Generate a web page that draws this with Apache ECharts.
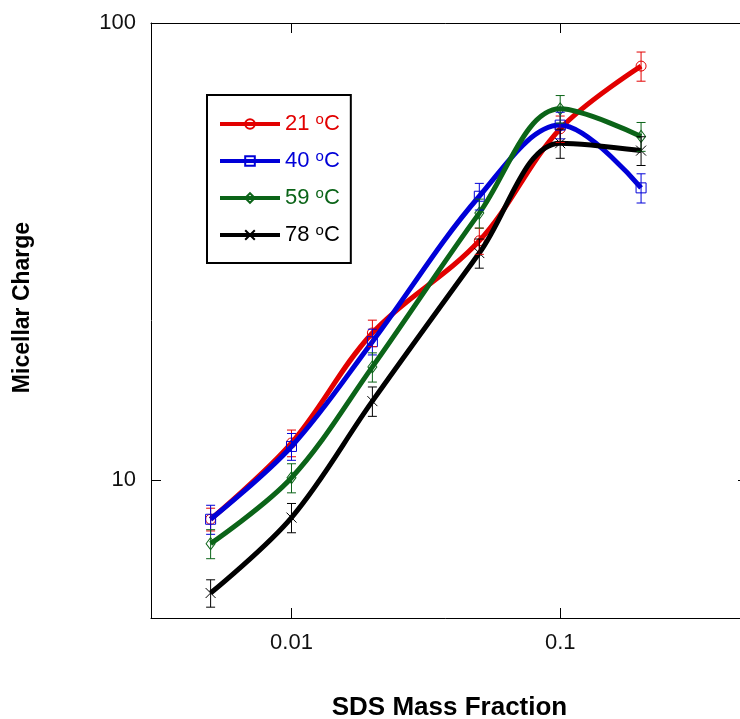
<!DOCTYPE html>
<html>
<head>
<meta charset="utf-8">
<script src="https://cdn.jsdelivr.net/npm/echarts@6/dist/echarts.min.js"></script>
<style>
html, body { margin: 0; padding: 0; background: #fff; }
#chart { width: 740px; height: 719px; }
</style>
</head>
<body>
<div id="chart"></div>
<script>
// ---- data ----
const massFraction = [0.005, 0.01, 0.02, 0.05, 0.1, 0.2];
const seriesNames = ['21 °C', '40 °C', '59 °C', '78 °C'];
const charge21 = [8.22, 12.07, 21.0, 33.4, 58.7, 80.5];
const charge40 = [8.22, 11.86, 20.1, 41.8, 59.8, 43.6];
const charge59 = [7.27, 10.13, 17.7, 38.4, 64.9, 56.5];
const charge78 = [5.67, 8.29, 14.9, 31.4, 54.6, 52.6];
const err21 = [0.47, 0.81, 1.4, 2.2, 3.9, 5.9];
const err40 = [0.6, 0.8, 1.3, 2.8, 4.0, 3.2];
const err59 = [0.53, 0.74, 1.3, 2.8, 4.5, 4.1];
const err78 = [0.39, 0.61, 1.1, 2.3, 4.0, 3.8];
const xTickValues = [0.01, 0.1];
const yTickValues = [10, 100];

// ---- styling ----
const colors = ['#e20000', '#0000d8', '#0b6418', '#000000'];
const symbols = ['circle', 'rect', 'diamond', 'path://M0,0L10,10M10,0L0,10'];
const symbolSizes = [10, 10, [9, 12], 10];
const FONT = 'Liberation Sans, Arial, Helvetica, sans-serif';

const values = [charge21, charge40, charge59, charge78];
const errors = [err21, err40, err59, err78];

const chart = echarts.init(document.getElementById('chart'), null, { renderer: 'canvas' });

const lineSeries = values.map((vals, i) => ({
  name: seriesNames[i],
  type: 'line',
  xAxisIndex: 0,
  yAxisIndex: 0,
  data: massFraction.map((x, j) => [x, vals[j]]),
  smooth: 0.35,
  symbol: symbols[i],
  symbolSize: symbolSizes[i],
  showSymbol: true,
  lineStyle: { color: colors[i], width: 5 },
  itemStyle: { color: 'rgba(255,255,255,0)', borderColor: colors[i], borderWidth: 1 },
  emphasis: { disabled: true },
  z: 2 + i,
  animation: false
}));

const errSeries = values.map((vals, i) => ({
  name: seriesNames[i],
  type: 'custom',
  xAxisIndex: 0,
  yAxisIndex: 0,
  data: massFraction.map((x, j) => [x, vals[j] - errors[i][j], vals[j] + errors[i][j]]),
  renderItem: function (params, api) {
    const x = api.value(0);
    const lo = api.coord([x, api.value(1)]);
    const hi = api.coord([x, api.value(2)]);
    const cap = 4.5;
    const st = { stroke: colors[i], lineWidth: 1 };
    return {
      type: 'group',
      children: [
        { type: 'line', shape: { x1: lo[0], y1: lo[1], x2: hi[0], y2: hi[1] }, style: st },
        { type: 'line', shape: { x1: lo[0] - cap, y1: lo[1], x2: lo[0] + cap, y2: lo[1] }, style: st },
        { type: 'line', shape: { x1: hi[0] - cap, y1: hi[1], x2: hi[0] + cap, y2: hi[1] }, style: st }
      ]
    };
  },
  clip: false,
  z: 10,
  silent: true,
  animation: false
}));

const rich = {};
colors.forEach((c, i) => {
  rich['a' + i] = { color: c, fontSize: 22, fontFamily: FONT, lineHeight: 24 };
  rich['s' + i] = { color: c, fontSize: 15, fontFamily: FONT, lineHeight: 15, verticalAlign: 'top' };
});

const axisCommon = {
  type: 'log',
  logBase: 10,
  axisLine: { show: true, lineStyle: { color: '#000', width: 1 } },
  axisTick: { show: true, inside: true, length: 10, lineStyle: { color: '#000', width: 1 } },
  minorTick: { show: false },
  splitLine: { show: false },
  minorSplitLine: { show: false }
};

const option = {
  backgroundColor: '#ffffff',
  animation: false,
  grid: { left: 151, width: 597, top: 23, height: 595, containLabel: false, outerBoundsMode: 'none' },
  legend: {
    orient: 'vertical',
    left: 207,
    top: 95,
    padding: [17, 11, 17, 11],
    borderColor: '#000',
    borderWidth: 2,
    itemWidth: 60,
    itemHeight: 12,
    itemGap: 14,
    data: seriesNames,
    lineStyle: { width: 4 },
    formatter: function (name) {
      const i = seriesNames.indexOf(name);
      return '{a' + i + '|' + name.split(' ')[0] + ' }{s' + i + '|o}{a' + i + '|C}';
    },
    textStyle: { fontFamily: FONT, fontSize: 22, rich: rich },
    selectedMode: false
  },
  xAxis: [
    Object.assign({}, axisCommon, {
      position: 'bottom',
      min: 0.003,
      max: 0.5,
      name: 'SDS Mass Fraction',
      nameLocation: 'middle',
      nameGap: 77,
      nameTextStyle: { fontFamily: FONT, fontSize: 26, fontWeight: 'bold', color: '#000' },
      axisLabel: {
        show: true,
        margin: 14,
        fontFamily: FONT,
        fontSize: 22,
        color: '#111',
        formatter: function (v) { return xTickValues.some(t => Math.abs(t - v) / t < 1e-6) ? String(v) : ''; }
      }
    }),
    Object.assign({}, axisCommon, {
      position: 'top',
      min: 0.003,
      max: 0.5,
      axisLabel: { show: false }
    })
  ],
  yAxis: [
    Object.assign({}, axisCommon, {
      position: 'left',
      min: 5,
      max: 100,
      name: 'Micellar Charge',
      nameLocation: 'middle',
      nameGap: 117,
      nameRotate: 90,
      nameTextStyle: { fontFamily: FONT, fontSize: 23, fontWeight: 'bold', color: '#000', padding: [0, 0, 0, 26] },
      axisLabel: {
        show: true,
        margin: 15,
        fontFamily: FONT,
        fontSize: 22,
        color: '#111',
        formatter: function (v) { return yTickValues.some(t => Math.abs(t - v) / t < 1e-6) ? String(v) : ''; }
      }
    }),
    Object.assign({}, axisCommon, {
      position: 'right',
      min: 5,
      max: 100,
      axisLabel: { show: false }
    })
  ],
  series: lineSeries.concat(errSeries)
};

chart.setOption(option);
</script>
</body>
</html>
